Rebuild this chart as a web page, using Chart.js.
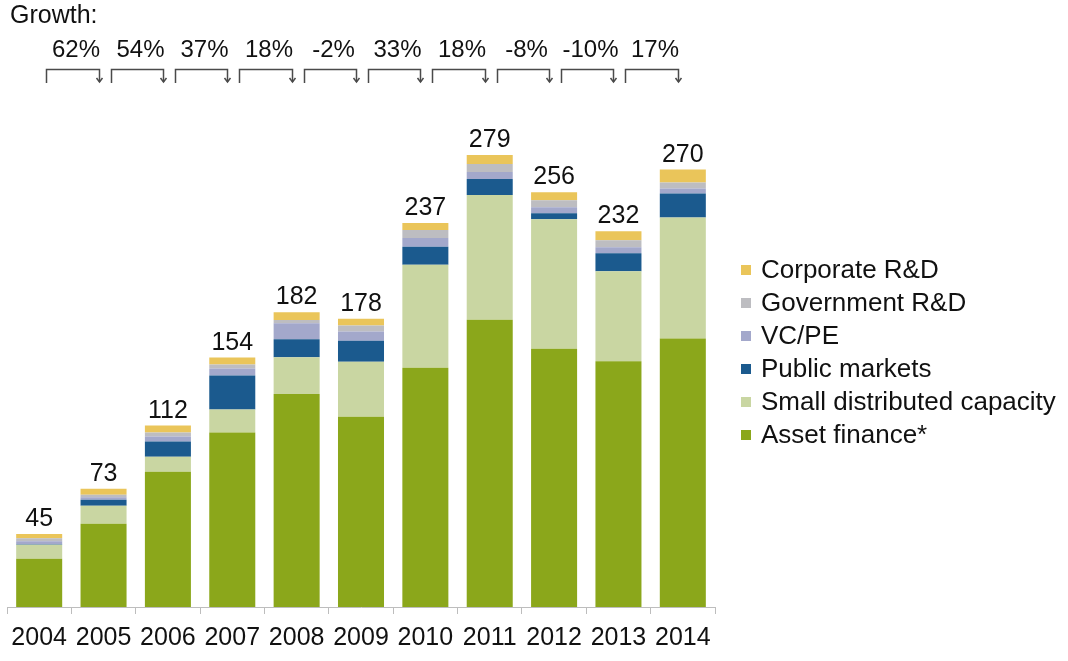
<!DOCTYPE html>
<html>
<head>
<meta charset="utf-8">
<script src="https://cdn.jsdelivr.net/npm/chart.js@4/dist/chart.umd.min.js"></script>
<style>
  html, body { margin: 0; padding: 0; background: #ffffff; }
  #wrap { width: 1068px; height: 661px; position: relative; }
</style>
</head>
<body>
<div id="wrap"><canvas id="chart" width="1068" height="661"></canvas></div>
<script>
// Investment by asset class, $bn
const years = ['2004', '2005', '2006', '2007', '2008', '2009', '2010', '2011', '2012', '2013', '2014'];
const assetFinance     = [29.8, 51.4, 83.5, 107.7, 131.5, 117.4, 147.7, 177.3, 159.4, 151.7, 165.7];
const smallDistributed = [8.6, 11.1, 9.3, 14.2, 22.7, 34.0, 63.6, 77.0, 80.0, 55.6, 74.7];
const publicMarkets    = [0.3, 3.7, 9.3, 21.0, 11.1, 13.0, 11.0, 9.9, 3.7, 11.1, 14.8];
const vcPe             = [1.9, 1.6, 3.1, 4.3, 9.9, 5.6, 5.5, 4.3, 3.7, 3.7, 3.1];
const governmentRD     = [1.9, 1.5, 2.5, 2.5, 1.9, 3.7, 4.9, 4.9, 4.3, 4.3, 3.7];
const corporateRD      = [2.5, 3.7, 4.3, 4.3, 4.9, 4.3, 4.3, 5.6, 4.9, 5.6, 8.0];
// Year-on-year growth shown above each pair of bars
const growthLabels = ['62%', '54%', '37%', '18%', '-2%', '33%', '18%', '-8%', '-10%', '17%'];

const FONT = '"Liberation Sans", Arial, Helvetica, sans-serif';
const TEXT = '#111111';

const series = [
  { label: 'Asset finance*',              data: assetFinance,     color: '#8ba71b' },
  { label: 'Small distributed capacity',  data: smallDistributed, color: '#c9d6a2' },
  { label: 'Public markets',              data: publicMarkets,    color: '#1b5a8e' },
  { label: 'VC/PE',                       data: vcPe,             color: '#a3a8cb' },
  { label: 'Government R&D',              data: governmentRD,     color: '#bdbdc1' },
  { label: 'Corporate R&D',               data: corporateRD,      color: '#eac55a' }
];

const totals = years.map((_, i) => series.reduce((s, d) => s + d.data[i], 0));

// Totals above bars, growth brackets and the side legend
const annotations = {
  id: 'annotations',
  afterDatasetsDraw(chart) {
    const { ctx, scales: { x, y } } = chart;
    ctx.save();
    ctx.fillStyle = TEXT;

    // totals
    ctx.font = '25px ' + FONT;
    ctx.textAlign = 'center';
    ctx.textBaseline = 'alphabetic';
    totals.forEach((t, i) => {
      ctx.fillText(String(Math.round(t)), x.getPixelForValue(i), y.getPixelForValue(t) - 8);
    });

    // growth header
    ctx.textAlign = 'left';
    ctx.fillText('Growth:', 10, 23);

    // growth brackets
    ctx.font = '24px ' + FONT;
    ctx.textAlign = 'center';
    ctx.strokeStyle = '#4a4a4a';
    ctx.lineWidth = 1.5;
    growthLabels.forEach((g, i) => {
      const x1 = Math.round(x.getPixelForValue(i) + 7) + 0.5;
      const x2 = Math.round(x.getPixelForValue(i + 1) - 5) + 0.5;
      const top = 69.5;
      ctx.beginPath();
      ctx.moveTo(x1, 83);
      ctx.lineTo(x1, top);
      ctx.lineTo(x2, top);
      ctx.lineTo(x2, 82);
      ctx.stroke();
      ctx.beginPath();
      ctx.moveTo(x2 - 3, 78);
      ctx.lineTo(x2, 82);
      ctx.lineTo(x2 + 3, 78);
      ctx.stroke();
      ctx.fillText(g, (x1 + x2) / 2 + 3, 57);
    });

    // legend, top item is the top of the stack
    ctx.font = '26px ' + FONT;
    ctx.textAlign = 'left';
    ctx.textBaseline = 'middle';
    const items = chart.data.datasets.slice().reverse();
    items.forEach((ds, k) => {
      const yc = 270 + k * 33;
      ctx.fillStyle = ds.backgroundColor;
      ctx.fillRect(741, yc - 5, 10, 10);
      ctx.fillStyle = TEXT;
      ctx.fillText(ds.label, 761, yc + 1);
    });
    ctx.restore();
  }
};

new Chart(document.getElementById('chart'), {
  type: 'bar',
  data: {
    labels: years,
    datasets: series.map(s => ({
      label: s.label,
      data: s.data,
      backgroundColor: s.color,
      borderWidth: 0,
      barPercentage: 0.715,
      categoryPercentage: 1.0
    }))
  },
  options: {
    responsive: false,
    animation: false,
    devicePixelRatio: 1,
    layout: { padding: { top: 121, left: 7, right: 353, bottom: 0 } },
    plugins: {
      legend: { display: false },
      tooltip: { enabled: false }
    },
    scales: {
      x: {
        stacked: true,
        offset: true,
        grid: { offset: true, drawOnChartArea: false, drawTicks: true, tickLength: 7, color: '#bdbdbd', lineWidth: 1 },
        border: { display: true, color: '#bdbdbd', width: 1 },
        ticks: { color: TEXT, font: { family: FONT, size: 25 }, padding: 9, maxRotation: 0, autoSkip: false },
        afterFit: s => { s.height = 54; }
      },
      y: {
        stacked: true,
        display: false,
        min: 0,
        max: 300
      }
    }
  },
  plugins: [annotations]
});
</script>
</body>
</html>
